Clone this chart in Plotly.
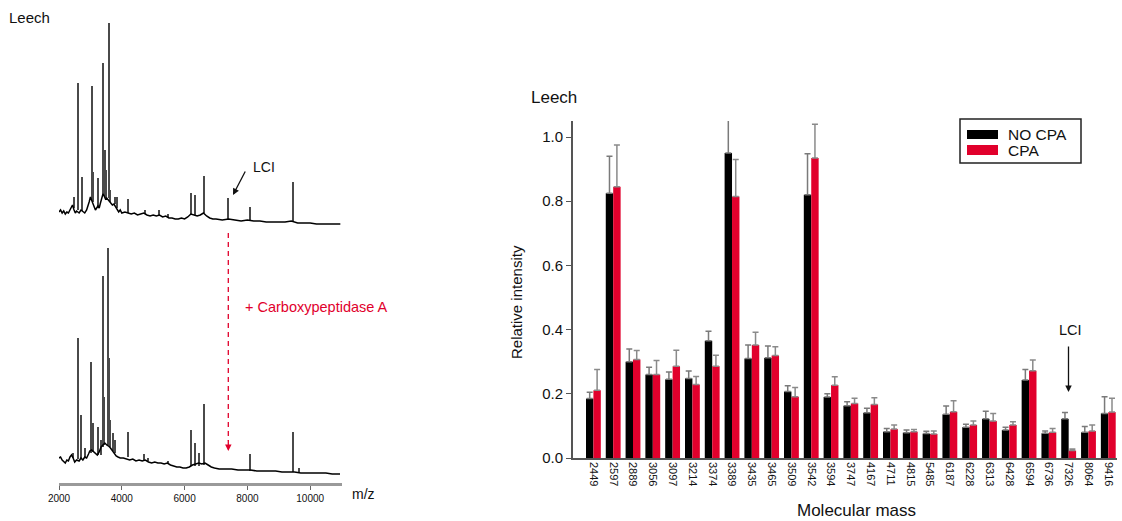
import plotly.graph_objects as go

W, H = 1122, 521
FONT = "Liberation Sans, Arial, sans-serif"

# ---------------- Bar chart data ----------------
masses = ["2449", "2597", "2889", "3056", "3097", "3214", "3374", "3389", "3435", "3465",
          "3509", "3542", "3594", "3747", "4167", "4711", "4815", "5485", "6187", "6228",
          "6313", "6428", "6594", "6736", "7326", "8064", "9416"]
no_cpa = [0.185, 0.825, 0.300, 0.260, 0.245, 0.248, 0.365, 0.950, 0.310, 0.312,
          0.207, 0.820, 0.190, 0.163, 0.141, 0.082, 0.079, 0.076, 0.136, 0.096,
          0.122, 0.087, 0.243, 0.077, 0.122, 0.080, 0.139]
no_cpa_err = [0.020, 0.115, 0.040, 0.023, 0.023, 0.023, 0.030, 0.105, 0.042, 0.037,
              0.018, 0.128, 0.010, 0.012, 0.014, 0.010, 0.008, 0.007, 0.026, 0.009,
              0.024, 0.009, 0.033, 0.007, 0.020, 0.018, 0.052]
cpa = [0.211, 0.845, 0.307, 0.260, 0.286, 0.229, 0.286, 0.815, 0.352, 0.319,
       0.191, 0.935, 0.227, 0.170, 0.167, 0.090, 0.082, 0.075, 0.144, 0.103,
       0.115, 0.103, 0.272, 0.080, 0.023, 0.084, 0.143]
cpa_err = [0.065, 0.130, 0.028, 0.044, 0.050, 0.025, 0.034, 0.115, 0.040, 0.028,
           0.029, 0.105, 0.026, 0.016, 0.021, 0.013, 0.007, 0.009, 0.034, 0.012,
           0.024, 0.010, 0.033, 0.012, 0.005, 0.019, 0.043]
y_ticks = [0.0, 0.2, 0.4, 0.6, 0.8, 1.0]

# ---------------- Spectrum (MALDI) data ----------------
top_base_mz = [2000, 2050, 2100, 2150, 2200, 2250, 2300, 2350, 2400, 2430, 2480, 2520, 2560,
               2640, 2700, 2760, 2820, 2880, 2930, 2960, 3000, 3040, 3080, 3120, 3160, 3240,
               3280, 3320, 3360, 3400, 3440, 3480, 3520, 3580, 3620, 3660, 3700, 3750, 3800,
               3850, 3900, 3950, 4000, 4100, 4200, 4300, 4400, 4500, 4600, 4700, 4800, 4900,
               5000, 5100, 5200, 5300, 5400, 5500, 5600, 5700, 5800, 5900, 6000, 6100, 6200,
               6300, 6400, 6500, 6600, 6700, 6800, 6900, 7000, 7200, 7400, 7600, 7800, 8000,
               8200, 8400, 8600, 8800, 9000, 9200, 9400, 9600, 9800, 10000, 10200, 10400,
               10600, 10800, 10960]
top_base_int = [18, 20, 17, 19, 16, 18, 17, 20, 22, 25, 20, 17, 19,
                17, 20, 18, 17, 20, 24, 28, 33, 30, 27, 23, 20, 24,
                22, 27, 32, 36, 34, 31, 32, 30, 28, 27, 25, 26, 23,
                21, 18, 20, 17, 18, 17, 16, 17, 15, 16, 17, 15, 14,
                15, 14, 15, 13, 14, 12, 12, 11, 11, 12, 11, 13, 16,
                15, 14, 15, 17, 14, 12, 11, 11, 10, 11, 10, 9, 10,
                9, 9, 8, 8, 8, 8, 9, 7, 7, 7, 6, 6,
                6, 6, 6]
top_peak_mz = [2481, 2618, 2726, 3045, 3080, 3240, 3414, 3450, 3500, 3580, 3640, 3787,
               3850, 4210, 4742, 5198, 5484, 6207, 6335, 6622, 7395, 8087, 9447]
top_peak_top = [33, 147, 53, 144, 58, 52, 167, 80, 60, 207, 40, 33,
                33, 31, 20, 20, 16, 37, 35, 54, 32, 23, 48]
top_peak_foot = [22, 20, 19, 30, 28, 22, 34, 34, 32, 32, 28, 26,
                 22, 17, 16, 14, 13, 15, 15, 17, 11, 10, 9]

bot_base_mz = [2000, 2050, 2100, 2150, 2200, 2250, 2300, 2350, 2400, 2450, 2500, 2560, 2640,
               2700, 2760, 2820, 2880, 2940, 2980, 3040, 3100, 3160, 3220, 3280, 3340, 3400,
               3460, 3520, 3580, 3640, 3700, 3760, 3820, 3880, 3950, 4050, 4150, 4250, 4350,
               4450, 4550, 4650, 4750, 4850, 4950, 5050, 5150, 5250, 5350, 5450, 5550, 5650,
               5750, 5850, 5950, 6050, 6150, 6250, 6350, 6450, 6550, 6650, 6750, 6850, 6950,
               7100, 7300, 7500, 7700, 7900, 8100, 8300, 8500, 8700, 8900, 9100, 9300, 9500,
               9700, 9900, 10100, 10300, 10500, 10700, 10950]
bot_base_int = [25, 26, 23, 21, 20, 23, 22, 26, 28, 25, 21, 23, 22,
                25, 23, 26, 25, 29, 32, 33, 31, 29, 28, 31, 36, 38,
                40, 38, 37, 35, 32, 30, 27, 26, 25, 25, 24, 23, 24,
                22, 23, 22, 23, 21, 20, 21, 20, 20, 19, 20, 18, 17,
                16, 16, 15, 15, 16, 18, 19, 20, 19, 20, 18, 16, 15,
                14, 14, 14, 13, 13, 13, 12, 12, 12, 12, 11, 11, 11,
                10, 10, 10, 10, 10, 9, 9]
bot_peak_mz = [2440, 2618, 2704, 2831, 3022, 3096, 3236, 3331, 3395, 3446, 3573, 3596,
               3628, 3733, 3787, 4191, 4720, 4828, 5465, 6207, 6335, 6462, 6622, 8087,
               9447, 9650]
bot_peak_top = [30, 145, 68, 35, 121, 60, 56, 43, 207, 86, 235, 125,
                63, 50, 43, 51, 29, 25, 22, 53, 40, 30, 79, 29,
                51, 15]
bot_peak_foot = [25, 24, 24, 25, 30, 31, 28, 28, 36, 38, 38, 38,
                 36, 32, 30, 26, 23, 22, 19, 17, 17, 17, 18, 12,
                 11, 11]
mz_ticks = [2000, 4000, 6000, 8000, 10000]

RED = "#e1002c"


def px(x):
    return x / W


def py(y):
    return 1 - y / H


fig = go.Figure()

# ---- spectra ----
for xa, ya, bmz, bint, pmz, ptop, pfoot in [
    ("x", "y", top_base_mz, top_base_int, top_peak_mz, top_peak_top, top_peak_foot),
    ("x2", "y2", bot_base_mz, bot_base_int, bot_peak_mz, bot_peak_top, bot_peak_foot),
]:
    fig.add_trace(go.Bar(
        x=pmz, y=[t - f for t, f in zip(ptop, pfoot)], base=pfoot, width=32,
        marker=dict(color="#4a4a4a", line=dict(width=0)),
        xaxis=xa, yaxis=ya, showlegend=False, hoverinfo="skip"))
    fig.add_trace(go.Scatter(
        x=bmz, y=bint, mode="lines", line=dict(color="black", width=1.5),
        xaxis=xa, yaxis=ya, showlegend=False, hoverinfo="skip"))

# ---- bars ----
fig.add_trace(go.Bar(
    x=masses, y=no_cpa, name="NO CPA", marker=dict(color="black", line=dict(width=0)),
    error_y=dict(type="data", array=no_cpa_err, arrayminus=[0] * len(masses), symmetric=False,
                 color="#7a7a7a", thickness=1.5, width=3),
    xaxis="x3", yaxis="y3", showlegend=False))
fig.add_trace(go.Bar(
    x=masses, y=cpa, name="CPA", marker=dict(color=RED, line=dict(width=0)),
    error_y=dict(type="data", array=cpa_err, arrayminus=[0] * len(masses), symmetric=False,
                 color="#8a8a8a", thickness=1.5, width=3),
    xaxis="x3", yaxis="y3", showlegend=False))

fig.update_layout(
    width=W, height=H, margin=dict(l=0, r=0, t=0, b=0, pad=0, autoexpand=False),
    paper_bgcolor="white", plot_bgcolor="white",
    barmode="group", bargap=0.25, bargroupgap=0,
    font=dict(family=FONT, color="#111"),
    xaxis=dict(domain=[px(59), px(342)], range=[2000, 11013], visible=False, anchor="y"),
    yaxis=dict(domain=[py(230), py(10)], range=[0, 220], visible=False, anchor="x"),
    xaxis2=dict(domain=[px(59), px(342)], range=[2000, 11013], anchor="y2",
                showline=True, linecolor="#9a9a9a", linewidth=2.5, showgrid=False,
                zeroline=False, ticks="outside", ticklen=4, tickcolor="#666",
                tickvals=mz_ticks, ticktext=[str(v) for v in mz_ticks],
                tickfont=dict(family=FONT, size=10, color="#111"), automargin=False),
    yaxis2=dict(domain=[py(483), py(240)], range=[0, 243], visible=False, anchor="x2"),
    xaxis3=dict(domain=[px(573), px(1117)], range=[-1.03, 26.44], type="category",
                anchor="y3", showline=True, linecolor="#555", linewidth=1.5,
                showgrid=False, zeroline=False, ticks="", tickangle=90,
                tickfont=dict(family=FONT, size=11, color="#111"), automargin=False),
    yaxis3=dict(domain=[py(458), py(121)], range=[0, 1.05], anchor="x3",
                showline=True, linecolor="#555", linewidth=2, showgrid=False,
                zeroline=False, ticks="outside", ticklen=5, tickcolor="#555",
                tickvals=y_ticks, ticktext=[f"{v:.1f}" for v in y_ticks],
                tickfont=dict(family=FONT, size=15, color="#111"), automargin=False),
)

ann = []


def text(x, y, s, size=13, color="#111", xanchor="left", textangle=0):
    ann.append(dict(x=px(x), y=py(y), xref="paper", yref="paper", text=s, showarrow=False,
                    xanchor=xanchor, yanchor="middle", textangle=textangle,
                    font=dict(family=FONT, size=size, color=color)))


def arrow(x, y, ax, ay, color="#111", width=1.3, head=2):
    ann.append(dict(x=px(x), y=py(y), xref="paper", yref="paper", text="", showarrow=True,
                    ax=ax, ay=ay, axref="pixel", ayref="pixel", arrowhead=head,
                    arrowsize=1, arrowwidth=width, arrowcolor=color))


# left panel texts
text(7, 17, "Leech", size=15)
text(251, 167, "LCI", size=14)
arrow(233, 195, 13, -25)
text(243, 307, "+ Carboxypeptidase A", size=14.5, color=RED)
arrow(228.3, 451, 0, -12, color=RED, width=1.3)
text(350, 494, "m/z", size=14)

# right panel texts
text(529, 97, "Leech", size=17)
text(516, 302, "Relative intensity", size=15, xanchor="center", textangle=-90)
text(856, 510, "Molecular mass", size=17, xanchor="center")
text(1070, 330, "LCI", size=14.5, xanchor="center")
arrow(1068.5, 392, 0, -47)

# legend
text(1006, 134, "NO CPA", size=15.5)
text(1006, 150, "CPA", size=15.5)

shapes = [
    dict(type="line", xref="paper", yref="paper", x0=px(228.3), x1=px(228.3),
         y0=py(233), y1=py(441), line=dict(color=RED, width=1.3, dash="5px,4px")),
    dict(type="rect", xref="paper", yref="paper", x0=px(960), x1=px(1081),
         y0=py(163), y1=py(119), line=dict(color="#222", width=1.5), fillcolor="white",
         layer="below"),
    dict(type="rect", xref="paper", yref="paper", x0=px(967), x1=px(998),
         y0=py(139), y1=py(130), line=dict(width=0), fillcolor="black"),
    dict(type="rect", xref="paper", yref="paper", x0=px(967), x1=px(998),
         y0=py(155), y1=py(145), line=dict(width=0), fillcolor=RED),
]

fig.update_layout(annotations=ann, shapes=shapes)
fig.write_html(
    "out.html",
    config={"displayModeBar": False},
    post_script="document.body.style.margin='0';document.body.style.padding='0';"
                "document.body.style.overflow='hidden';",
)
